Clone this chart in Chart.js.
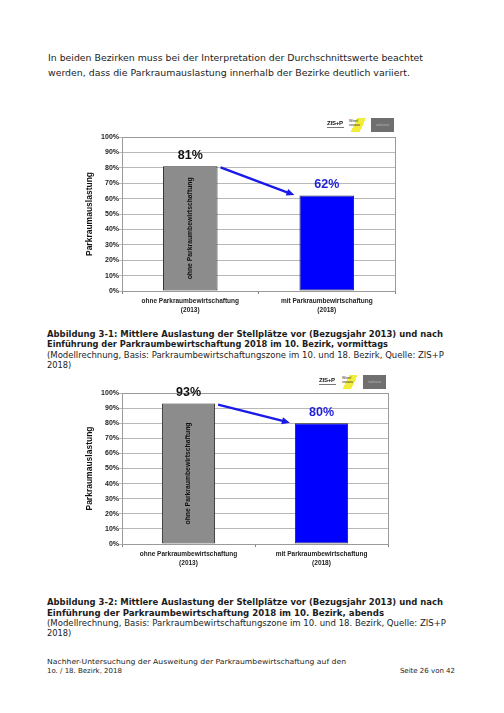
<!DOCTYPE html>
<html>
<head>
<meta charset="utf-8">
<script src="https://cdn.jsdelivr.net/npm/chart.js@4.4.1/dist/chart.umd.min.js"></script>
<style>
html,body{margin:0;padding:0;background:#fff;}
body{width:504px;height:713px;position:relative;overflow:hidden;font-family:"DejaVu Sans",Verdana,sans-serif;color:#1c1c1c;}
.ln{position:absolute;left:47px;white-space:nowrap;font-size:8.3px;line-height:10px;transform-origin:0 0;}
.b{font-weight:bold;}
.ft{font-size:7px;line-height:9px;}
canvas{position:absolute;}
.zis{position:absolute;font:bold 6px "Liberation Sans",Arial,sans-serif;color:#111;line-height:6px;letter-spacing:-0.2px;}
.zis i{display:block;width:17px;height:1px;background:#777;margin-top:1px;}
.wien{position:absolute;height:14px;background:linear-gradient(115deg,#fff 38%,#f2ec3a 38%,#f2ec3a 72%,#fff 72%);font:3.6px "Liberation Sans",Arial,sans-serif;line-height:4px;color:#222;padding:1px 0 0 2px;box-sizing:border-box;}
.sw{position:absolute;width:23px;height:14px;background:#6f6f6f;color:#b8b8b8;font:3px "Liberation Sans",Arial,sans-serif;line-height:14px;text-align:center;}
</style>
</head>
<body>

<div class="ln" style="left:48px;top:53px" data-w="375">In beiden Bezirken muss bei der Interpretation der Durchschnittswerte beachtet</div>
<div class="ln" style="left:48px;top:67.5px" data-w="362">werden, dass die Parkraumauslastung innerhalb der Bezirke deutlich variiert.</div>

<canvas id="c1" width="325" height="210" style="left:80px;top:110px"></canvas>
<div class="zis" style="left:327px;top:120px">ZIS+P<i></i></div>
<div class="wien" style="left:347px;top:118px;width:20px">Wien/<br>voraus</div>
<div class="sw" style="left:371px;top:118px">stadt wien</div>

<div class="ln b" style="top:328.7px" data-w="396">Abbildung 3-1: Mittlere Auslastung der Stellplätze vor (Bezugsjahr 2013) und nach</div>
<div class="ln b" style="top:339.2px" data-w="341">Einführung der Parkraumbewirtschaftung 2018 im 10. Bezirk, vormittags</div>
<div class="ln" style="top:349.7px" data-w="397">(Modellrechnung, Basis: Parkraumbewirtschaftungszone im 10. und 18. Bezirk, Quelle: ZIS+P</div>
<div class="ln" style="top:360.2px">2018)</div>

<canvas id="c2" width="315" height="200" style="left:80px;top:370px"></canvas>
<div class="zis" style="left:319px;top:377px">ZIS+P<i></i></div>
<div class="wien" style="left:340px;top:375px;width:18px">Wien/<br>voraus</div>
<div class="sw" style="left:363px;top:375px">stadt wien</div>

<div class="ln b" style="top:597.2px" data-w="396">Abbildung 3-2: Mittlere Auslastung der Stellplätze vor (Bezugsjahr 2013) und nach</div>
<div class="ln b" style="top:607.5px" data-w="337">Einführung der Parkraumbewirtschaftung 2018 im 10. Bezirk, abends</div>
<div class="ln" style="top:617.8px" data-w="399">(Modellrechnung, Basis: Parkraumbewirtschaftungszone im 10. und 18. Bezirk, Quelle: ZIS+P</div>
<div class="ln" style="top:627.5px">2018)</div>

<div class="ln ft" style="top:657.7px" data-w="299">Nachher-Untersuchung der Ausweitung der Parkraumbewirtschaftung auf den</div>
<div class="ln ft" style="top:666.7px">1o. / 18. Bezirk, 2018</div>
<div class="ln ft" style="left:auto;right:49px;top:666.7px">Seite 26 von 42</div>

<script>
// data
const categories = [["ohne Parkraumbewirtschaftung", "(2013)"], ["mit Parkraumbewirtschaftung", "(2018)"]];
const morningValues = [81, 62];   // Abbildung 3-1, vormittags
const eveningValues = [93, 80];   // Abbildung 3-2, abends
const barColors = ["#8c8c8c", "#0000ff"];
const labelColors = ["#111111", "#1f1fd8"];
const yTitle = "Parkraumauslastung";
const barText = "ohne Parkraumbewirtschaftung";
const yMax = 100, yStep = 10;

// stretch text lines to the widths seen on the page
document.querySelectorAll("[data-w]").forEach(el => {
  const w = el.getBoundingClientRect().width;
  el.style.transform = "scaleX(" + (el.dataset.w / w) + ")";
});

const FONT = '"Liberation Sans", Arial, sans-serif';

const annot = {
  id: "annot",
  beforeDatasetsDraw(chart) {
    const {ctx, chartArea: a} = chart;
    ctx.save();
    ctx.strokeStyle = "#9a9a9a";
    ctx.lineWidth = 1;
    ctx.strokeRect(Math.round(a.left) + 0.5, Math.round(a.top) + 0.5, Math.round(a.right - a.left), Math.round(a.bottom - a.top));
    ctx.restore();
  },
  afterDatasetsDraw(chart) {
    const ctx = chart.ctx;
    const bars = chart.getDatasetMeta(0).data;
    const vals = chart.data.datasets[0].data;
    const b0 = bars[0], b1 = bars[1];

    // text inside the grey bar
    ctx.save();
    ctx.translate(b0.x, (b0.y + b0.base) / 2);
    ctx.rotate(-Math.PI / 2);
    ctx.font = "bold 6.8px " + FONT;
    ctx.fillStyle = "#111";
    ctx.textAlign = "center";
    ctx.textBaseline = "middle";
    ctx.fillText(barText, 0, 0);
    ctx.restore();

    // value labels
    ctx.save();
    ctx.font = "bold 12.5px " + FONT;
    ctx.textAlign = "center";
    ctx.textBaseline = "middle";
    bars.forEach((b, i) => {
      ctx.fillStyle = labelColors[i];
      ctx.fillText(vals[i] + "%", b.x, b.y - 11);
    });
    ctx.restore();

    // arrow
    const x1 = b0.x + b0.width / 2 + 3, y1 = b0.y + 1;
    const x2 = b1.x - b1.width / 2 - 5, y2 = b1.y - 0.5;
    const ang = Math.atan2(y2 - y1, x2 - x1);
    const hl = 8, hw = 3.5;
    ctx.save();
    ctx.strokeStyle = "#1a1ae8";
    ctx.fillStyle = "#1a1ae8";
    ctx.lineWidth = 2.4;
    ctx.beginPath();
    ctx.moveTo(x1, y1);
    ctx.lineTo(x2 - Math.cos(ang) * hl * 0.8, y2 - Math.sin(ang) * hl * 0.8);
    ctx.stroke();
    ctx.beginPath();
    ctx.moveTo(x2, y2);
    ctx.lineTo(x2 - Math.cos(ang) * hl - Math.sin(ang) * hw, y2 - Math.sin(ang) * hl + Math.cos(ang) * hw);
    ctx.lineTo(x2 - Math.cos(ang) * hl + Math.sin(ang) * hw, y2 - Math.sin(ang) * hl - Math.cos(ang) * hw);
    ctx.closePath();
    ctx.fill();
    ctx.restore();
  }
};

function makeChart(id, values, d) {
  return new Chart(document.getElementById(id), {
    type: "bar",
    data: {
      labels: categories,
      datasets: [{
        data: values,
        backgroundColor: barColors,
        borderColor: "#2a2a2a",
        borderWidth: 1,
        borderSkipped: false,
        barPercentage: 0.4,
        categoryPercentage: 1
      }]
    },
    options: {
      responsive: false,
      animation: false,
      layout: {padding: {top: d.top, right: d.right, left: 0, bottom: 0}},
      plugins: {legend: {display: false}, tooltip: {enabled: false}},
      scales: {
        x: {
          grid: {drawOnChartArea: false, tickLength: 3, color: "#808080"},
          border: {color: "#707070"},
          ticks: {font: {family: FONT, size: 6.5, weight: "bold", lineHeight: 1.35}, color: "#222", padding: 3, maxRotation: 0, autoSkip: false},
          afterFit: s => { s.height = d.xh; }
        },
        y: {
          min: 0, max: yMax,
          ticks: {stepSize: yStep, callback: v => v + "%", font: {family: FONT, size: 7, weight: "bold"}, color: "#222", padding: 0},
          grid: {color: "#b8b8b8", tickLength: 3},
          border: {color: "#808080"},
          title: {display: true, text: yTitle, font: {family: FONT, size: 8.5, weight: "bold", lineHeight: 1}, color: "#111", padding: {top: 5, bottom: 0}},
          afterFit: s => { s.width = 42; }
        }
      }
    },
    plugins: [annot]
  });
}

makeChart("c1", morningValues, {top: 27, right: 10, xh: 29});
makeChart("c2", eveningValues, {top: 23, right: 7, xh: 26});
</script>
</body>
</html>
